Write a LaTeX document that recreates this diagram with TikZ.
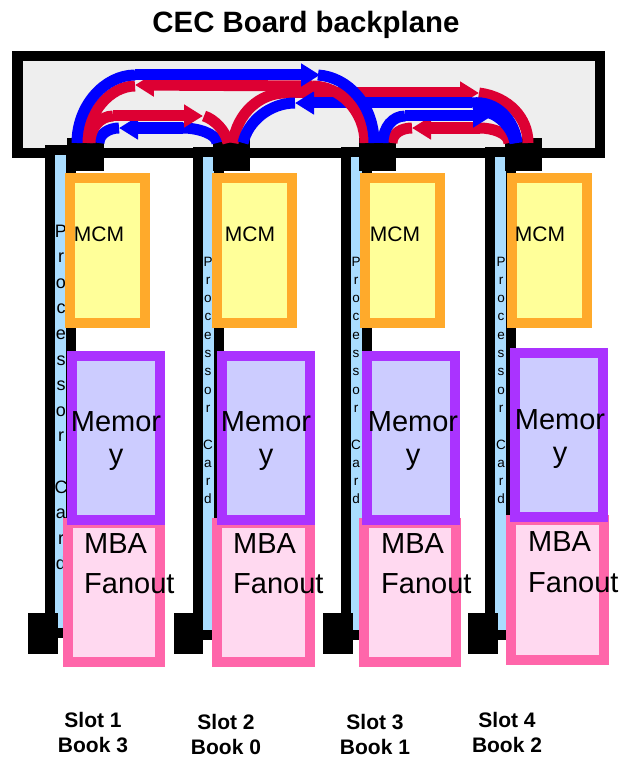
\documentclass[tikz,border=0pt]{standalone}
\usepackage{fontspec}
\setmainfont{Liberation Sans}
\usetikzlibrary{arrows.meta}
\definecolor{cgrey}{HTML}{EEEEEE}
\definecolor{corange}{HTML}{FFAA2B}
\definecolor{cyellow}{HTML}{FFFF99}
\definecolor{cpurple}{HTML}{AA33FF}
\definecolor{clav}{HTML}{CCCCFF}
\definecolor{cpink}{HTML}{FF66AA}
\definecolor{clpink}{HTML}{FFD9F0}
\definecolor{cblue}{HTML}{AADDFF}
\definecolor{cred}{HTML}{DD0033}
\definecolor{cbl}{HTML}{0000FF}
\newcommand{\bx}[7][0]{%
  \pgfmathsetmacro{\bw}{#5-#3-#1}\pgfmathsetmacro{\bh}{#7-#4-#1}%
  \pgfmathsetmacro{\cx}{(#3+#5)/2}\pgfmathsetmacro{\cy}{(#4+#7)/2}%
  \node[#2,minimum width=\bw pt,minimum height=\bh pt] (#6) at (\cx,\cy) {};}
\newcommand{\vtext}[5]{% name, x, y0, step, font size
  \node[lbl,font=\fontsize{#5}{#5}\selectfont] (#1a) at (#2,#3) {P};
  \foreach \ch [count=\i] in {r,o,c,e,s,s,o,r,{},C,a,r,d}{
    \pgfmathsetmacro{\yy}{#3+\i*#4}
    \node[lbl,font=\fontsize{#5}{#5}\selectfont] (#1l\i) at (#2,\yy) {\ch};
  }}
\tikzset{
  x=1pt,y=-1pt,
  boxbase/.style={rectangle,inner sep=0pt,draw},
  backplane/.style={boxbase,draw=black,fill=cgrey,line width=10.5pt},
  card/.style={boxbase,draw=black,fill=cblue,line width=10pt},
  block/.style={rectangle,inner sep=0pt,fill=black},
  mcm/.style={boxbase,draw=corange,fill=cyellow,line width=10pt},
  mem/.style={boxbase,draw=cpurple,fill=clav,line width=10pt},
  mba/.style={boxbase,draw=cpink,fill=clpink,line width=10pt},
  lbl/.style={anchor=base,inner sep=0pt,text=black},
  big/.style={lbl,font=\fontsize{29}{29}\selectfont},
  bigl/.style={big,anchor=base west},
  small/.style={lbl,font=\fontsize{21}{21}\selectfont},
  slot/.style={lbl,font=\bfseries\fontsize{21}{21}\selectfont},
  rd/.style={draw=cred,line width=11pt},
  bl/.style={draw=cbl,line width=11pt},
  tip/.style={-{Triangle[length=19pt,width=22pt]}},
}
\begin{document}
\begin{tikzpicture}
\useasboundingbox (0,0) rectangle (623,757);
\node[lbl,font=\bfseries\fontsize{29.4}{29.4}\selectfont] (title) at (306,33) {CEC Board backplane};
\bx[10.5]{backplane}{12}{51}{605}{bp}{158}
% cards
\bx[10]{card}{45}{145}{76}{c1}{638}
\bx[10]{card}{193}{147}{224}{c2}{640}
\bx[10]{card}{341}{147}{372}{c3}{640}
\bx[10]{card}{485}{147}{516}{c4}{640}
% top and bottom blocks
\bx{block}{67}{138}{104}{t1}{171}
\bx{block}{213}{138}{250}{t2}{171}
\bx{block}{359}{138}{396}{t3}{171}
\bx{block}{505}{138}{542}{t4}{171}
\bx{block}{28}{613}{58}{b1}{654}
\bx{block}{174}{613}{203}{b2}{654}
\bx{block}{323}{613}{353}{b3}{654}
\bx{block}{468}{613}{498}{b4}{654}
% card text
\vtext{pa}{61}{237}{25.6}{18}
\vtext{pb}{208}{266}{18.3}{13.5}
\vtext{pc}{356}{266}{18.3}{13.5}
\vtext{pd}{501}{266}{18.3}{13.5}
% MCM
\bx[10]{mcm}{65}{173}{150}{m1}{328}
\bx[10]{mcm}{212}{173}{297}{m2}{328}
\bx[10]{mcm}{360}{173}{445}{m3}{328}
\bx[10]{mcm}{507}{173}{592}{m4}{328}
% MBA
\bx[10]{mba}{63}{518}{165}{f1}{667}
\bx[10]{mba}{212}{518}{315}{f2}{667}
\bx[10]{mba}{359}{518}{461}{f3}{667}
\bx[10]{mba}{506}{515}{609}{f4}{665}
% Memory
\bx[10]{mem}{67}{351}{165}{e1}{525}
\bx[10]{mem}{217}{351}{315}{e2}{525}
\bx[10]{mem}{362}{351}{460}{e3}{525}
\bx[10]{mem}{510}{348}{608}{e4}{522}
% texts
\node[small] (tm1) at (99,241) {MCM};
\node[small] (tm2) at (250,241) {MCM};
\node[small] (tm3) at (395,241) {MCM};
\node[small] (tm4) at (540,241) {MCM};
\node[big] (te1) at (116,431) {Memor}; \node[big] (ty1) at (116,464) {y};
\node[big] (te2) at (266,431) {Memor}; \node[big] (ty2) at (266,464) {y};
\node[big] (te3) at (413,431) {Memor}; \node[big] (ty3) at (413,464) {y};
\node[big] (te4) at (560,429) {Memor}; \node[big] (ty4) at (560,462) {y};
\node[bigl] (tb1) at (84,553) {MBA}; \node[bigl] (tf1) at (84,593) {Fanout};
\node[bigl] (tb2) at (233,553) {MBA}; \node[bigl] (tf2) at (233,593) {Fanout};
\node[bigl] (tb3) at (381,553) {MBA}; \node[bigl] (tf3) at (381,593) {Fanout};
\node[bigl] (tb4) at (528,551) {MBA}; \node[bigl] (tf4) at (528,592) {Fanout};
\node[slot] (s1) at (93,727) {Slot 1}; \node[slot] (k1) at (93,752) {Book 3};
\node[slot] (s2) at (226,729) {Slot 2}; \node[slot] (k2) at (226,754) {Book 0};
\node[slot] (s3) at (375,729) {Slot 3}; \node[slot] (k3) at (375,754) {Book 1};
\node[slot] (s4) at (507,727) {Slot 4}; \node[slot] (k4) at (507,752) {Book 2};
% connector end points
\coordinate (aB1) at (77,143);   \coordinate (aB1a) at (135,75);
\coordinate (aB1b) at (320,75);  \coordinate (aB1c) at (318,75);  \coordinate (aB1d) at (374,143);
\coordinate (aR1) at (87,143);   \coordinate (aR1a) at (135,86);
\coordinate (aR1t) at (135,85);  \coordinate (aR1b) at (312,86);  \coordinate (aR1d) at (365,143);
\coordinate (aR2) at (90,143);   \coordinate (aR2a) at (113,116);
\coordinate (aR2t) at (203,116); \coordinate (aR2b) at (204,116); \coordinate (aR2d) at (228,143);
\coordinate (aB2) at (99,143);   \coordinate (aB2a) at (119,128);
\coordinate (aB2b) at (183,128); \coordinate (aB2d) at (217,143);
\coordinate (aR3) at (233,143);  \coordinate (aR3a) at (285,93);
\coordinate (aR3t) at (479,93);  \coordinate (aR3b) at (479,93);  \coordinate (aR3d) at (528,143);
\coordinate (aB3) at (243,143);  \coordinate (aB3a) at (295,103);
\coordinate (aB3b) at (472,103); \coordinate (aB3d) at (517,143);
\coordinate (aB4) at (383,143);  \coordinate (aB4a) at (405,116);
\coordinate (aB4t) at (492,116); \coordinate (aB4b) at (478,112); \coordinate (aB4d) at (515,143);
\coordinate (aR5) at (392,143);  \coordinate (aR5a) at (412,128);
\coordinate (aR5b) at (480,128); \coordinate (aR5d) at (509,143);
% red and blue links
\path[rd] (aR5) .. controls +(0,-10) and +(-10,0) .. (aR5a);
\path[rd] (aR5d) .. controls +(0,-10) and +(12,0) .. (aR5b);
\path[rd,tip] (aR5b) -- (aR5a);
\path[bl] (aB4d) .. controls +(-3,-18) and +(15,-3) .. (aB4b);
\path[bl] (aB4) .. controls +(0,-16) and +(-12,0) .. (aB4a);
\path[bl,tip] (aB4a) -- (aB4t);
\path[rd] (aR3) .. controls +(4,-30) and +(-25,0) .. (aR3a);
\path[rd,tip] (aR3a) -- (aR3t);
\path[rd] (aR3b) .. controls +(30,4) and +(0,-25) .. (aR3d);
\path[bl] (aB3) .. controls +(5,-22) and +(-25,0) .. (aB3a);
\path[bl,tip] (aB3b) -- (aB3a);
\path[bl] (aB3d) .. controls +(-2,-22) and +(25,-3) .. (aB3b);
\path[rd] (aR1) .. controls +(0,-30) and +(-25,0) .. (aR1a);
\path[rd,tip] (aR1b) -- (aR1t);
\path[rd] (aR1d) .. controls +(0,-32) and +(28,0) .. (aR1b);
\path[bl] (aB2) .. controls +(0,-9) and +(-10,0) .. (aB2a);
\path[bl,tip] (aB2b) -- (aB2a);
\path[bl] (aB2d) .. controls +(0,-9) and +(15,0) .. (aB2b);
\path[rd] (aR2) .. controls +(0,-16) and +(-12,0) .. (aR2a);
\path[rd,tip] (aR2a) -- (aR2t);
\path[rd] (aR2d) .. controls +(-2,-12) and +(10,3) .. (aR2b);
\path[bl] (aB1) .. controls +(0,-38) and +(-30,0) .. (aB1a);
\path[bl,tip] (aB1a) -- (aB1b);
\path[bl] (aB1c) .. controls +(30,2) and +(0,-38) .. (aB1d);
\end{tikzpicture}
\end{document}
